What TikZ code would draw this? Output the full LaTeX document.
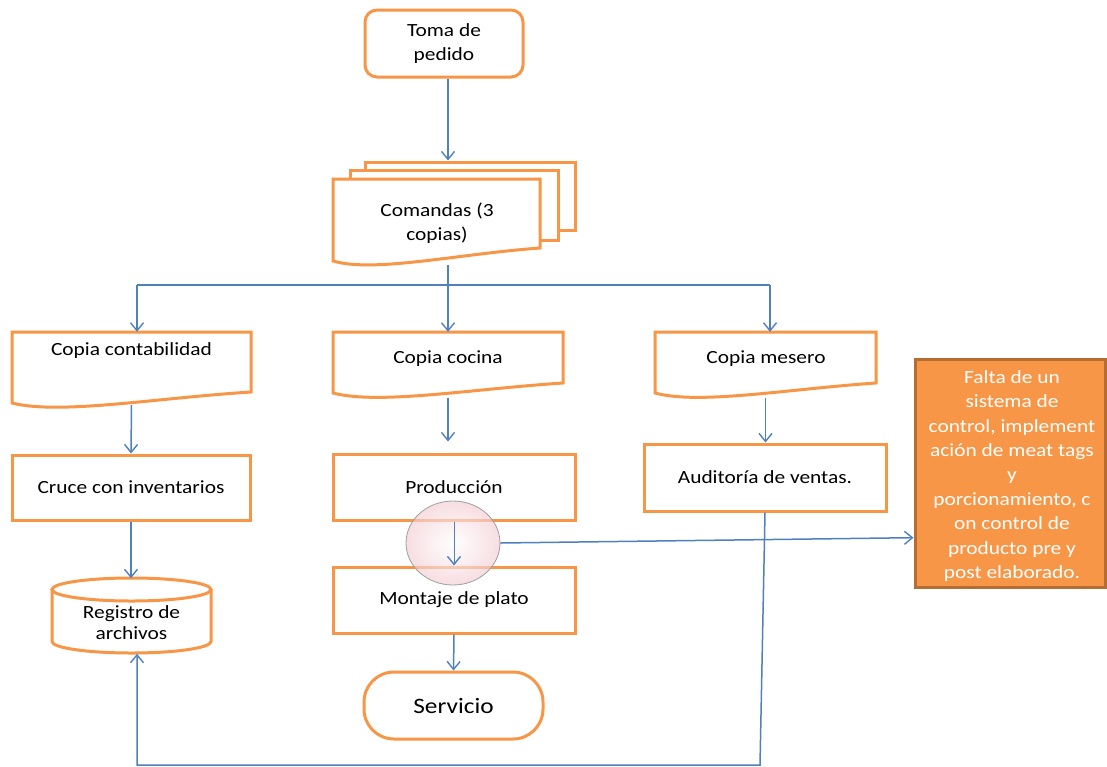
\documentclass[tikz,border=0pt]{standalone}
\usepackage{fontspec}
\setmainfont{Carlito}[FakeStretch=1.15]
\usetikzlibrary{arrows.meta,shapes.geometric,calc}
\definecolor{orng}{HTML}{F79646}
\definecolor{orngdark}{HTML}{B66D31}
\definecolor{lblue}{HTML}{4F81BD}
\definecolor{pinkish}{HTML}{F4CCD3}
\newcommand{\docsh}[5]{%
  \draw[docline] (#1,#3) -- (#2,#3) -- (#2,#4)
    .. controls ({#2-0.4*(#2-#1)},{#4+6}) and ({#1+0.2*(#2-#1)},{#5+12}) .. (#1,#5) -- cycle;}
\begin{document}
\begin{tikzpicture}[x=1pt,y=-1pt,
  area/.style={draw=none,inner sep=0pt},
  procbox/.style={draw=orng,line width=3pt,fill=white,inner sep=0pt,
    font=\fontsize{18.6}{24}\selectfont,align=center},
  txt/.style={font=\fontsize{18.6}{24}\selectfont,align=center,inner sep=0pt},
  docline/.style={draw=orng,line width=3pt,fill=white,line join=miter},
  conn/.style={draw=lblue,line width=1.5pt},
  arr/.style={draw=lblue,line width=1.5pt,-{Straight Barb[length=8pt,width=13pt,line width=1.4pt]}}]
\useasboundingbox (0,0) rectangle (1107,766);
\fill[white] (0,0) rectangle (1107,766);

% Toma de pedido
\node[procbox,rounded corners=12pt,minimum width=158pt,minimum height=67pt] (toma) at (444,43.5) {Toma de\\pedido};

% Comandas (3 copias)
\node[procbox,minimum width=210pt,minimum height=68pt] (cmdback) at (470,196) {};
\node[procbox,minimum width=208pt,minimum height=70pt] (cmdmid) at (454,205) {};
\docsh{333}{540}{179}{248}{261}
\node[area,minimum width=207pt,minimum height=86pt] (cmd) at (436.5,222) {};
\node[txt] (cmd-t) at (437,223.5) {Comandas (3\\copias)};

% copies
\docsh{12}{251}{332}{392}{403}
\node[area,minimum width=239pt,minimum height=73pt] (cont) at (131.5,368.5) {};
\node[txt] (cont-t) at (131.5,351) {Copia contabilidad};
\docsh{333}{563}{332}{383}{393}
\node[area,minimum width=230pt,minimum height=66pt] (cop) at (448,365) {};
\node[txt] (cop-t) at (448,359) {Copia cocina};
\docsh{655}{876}{332}{383}{393}
\node[area,minimum width=221pt,minimum height=66pt] (mes) at (765.5,365) {};
\node[txt] (mes-t) at (766,359) {Copia mesero};

% process boxes
\node[procbox,minimum width=238pt,minimum height=65pt] (cruce) at (131,487.5) {Cruce con inventarios};
\node[procbox,minimum width=242pt,minimum height=66pt] (prod) at (454,487) {Producción};
\node[procbox,minimum width=242pt,minimum height=67pt] (aud) at (765,477.5) {Auditoría de ventas.};
\node[procbox,minimum width=242pt,minimum height=66pt] (mont) at (454,600) {Montaje de plato};
\node[procbox,rounded corners=30pt,minimum width=179pt,minimum height=67pt,
  font=\fontsize{22}{26}\selectfont] (serv) at (453.5,705.5) {Servicio};

% Registro de archivos (cylinder)
\draw[docline] (52,589.5) -- (52,641.5) arc[start angle=180,end angle=0,x radius=79.5,y radius=11.5] -- (211,589.5);
\draw[docline] (131.5,589.5) ellipse [x radius=79.5,y radius=11.5];
\node[area,minimum width=159pt,minimum height=75pt] (reg) at (131.5,616) {};
\node[txt,font=\fontsize{18.6}{21}\selectfont] (reg-t) at (131.5,623) {Registro de\\archivos};

% orange note
\node[draw=orngdark,fill=orng,line width=3pt,minimum width=190pt,minimum height=228pt,
  txt,font=\fontsize{18.6}{24.4}\selectfont,text=white] (falta) at (1010,473) {};
\node[txt,font=\fontsize{18.6}{24.4}\selectfont,text=white] (falta-t) at (1012,476)
  {Falta de un\\sistema de\\control, implement\\ación de meat tags\\y\\porcionamiento, c\\on control de\\producto pre y\\post elaborado.};

% highlight circle
\node[ellipse,draw=gray!75,line width=0.8pt,minimum width=94pt,minimum height=84pt,inner sep=0pt,
  inner color=white,outer color=pinkish,fill opacity=0.65] (circ) at (453,543) {};

% connectors
\coordinate (bl) at (137,285);
\coordinate (br) at (770,285);
\coordinate (c1) at (760,765);
\coordinate (c2) at (137,765);
\draw[arr] (toma.south -| cop.north) -- (cop.north |- cmdback.north);
\draw[arr] (cmd.south -| cop.north) -- (cop.north);
\draw[conn] (bl) -- (br);
\draw[arr] (bl) -- (bl |- cont.north);
\draw[arr] (br) -- (br |- mes.north);
\draw[arr] (cont.south) -- (cruce.north);
\draw[arr] (cruce.south) -- (cruce.south |- reg.north);
\draw[arr,shorten >=11pt] (cop.south) -- (cop.south |- prod.north);
\draw[arr] (mes.south) -- (mes.south |- aud.north);
\draw[arr,line width=1pt] (prod.south) -- (mont.north);
\draw[arr] (mont.south) -- (serv.north);
\draw[arr] (aud.south) -- (c1) -- (c2) -- (c2 |- reg.south);
\draw[arr] (circ.east) -- ($(falta.north west)!0.78!(falta.south west)$);
\end{tikzpicture}
\end{document}
